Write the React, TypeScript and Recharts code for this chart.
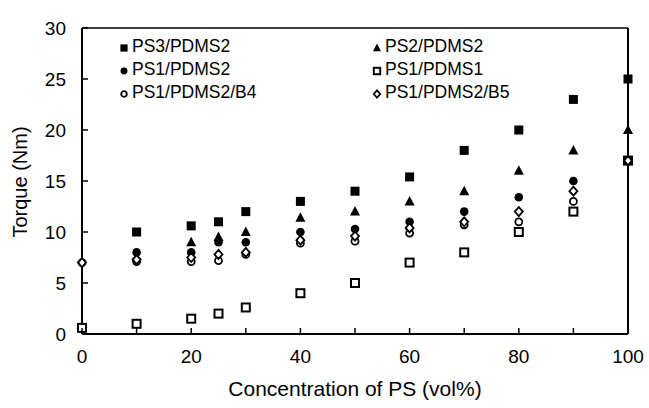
import React from 'react';
import { ScatterChart, Scatter, XAxis, YAxis, ReferenceLine, Legend, Label } from 'recharts';

// Concentration of PS (vol%)
const concentration = [0, 10, 20, 25, 30, 40, 50, 60, 70, 80, 90, 100];
// Torque (Nm) per series, null = no point
const ps3Pdms2 = [null, 10, 10.6, 11, 12, 13, 14, 15.4, 18, 20, 23, 25];
const ps2Pdms2 = [null, null, 9, 9.5, 10, 11.4, 12, 13, 14, 16, 18, 20];
const ps1Pdms2 = [null, 8, 8, 9, 9, 10, 10.3, 11, 12, 13.4, 15, null];
const ps1Pdms1 = [0.6, 1, 1.5, 2, 2.6, 4, 5, 7, 8, 10, 12, 17];
const ps1Pdms2B4 = [7, 7.1, 7.1, 7.2, 7.8, 8.9, 9.1, 9.9, 10.7, 11, 13, 17];
const ps1Pdms2B5 = [7, 7.3, 7.5, 7.8, 8, 9.2, 9.6, 10.4, 11, 12, 14, 17];

const xTicks = [0, 10, 20, 30, 40, 50, 60, 70, 80, 90, 100];
const yTicks = [0, 5, 10, 15, 20, 25, 30];

const FONT = '"Liberation Sans", Arial, Helvetica, sans-serif';

const toPoints = (vals: (number | null)[]) =>
  concentration
    .map((x, i) => ({ x, y: vals[i] }))
    .filter((p) => p.y !== null);

type MarkerKind = 'fsq' | 'tri' | 'fci' | 'osq' | 'oci' | 'odi';

const drawMarker = (kind: MarkerKind, cx: number, cy: number, s = 1) => {
  switch (kind) {
    case 'fsq':
      return <rect x={cx - 4.5 * s} y={cy - 4.5 * s} width={9 * s} height={9 * s} fill="#000" />;
    case 'tri':
      return (
        <polygon
          points={`${cx},${cy - 5.5 * s} ${cx - 5 * s},${cy + 4 * s} ${cx + 5 * s},${cy + 4 * s}`}
          fill="#000"
        />
      );
    case 'fci':
      return <circle cx={cx} cy={cy} r={4.3 * s} fill="#000" />;
    case 'osq':
      return (
        <rect x={cx - 4 * s} y={cy - 4 * s} width={8 * s} height={8 * s} fill="#fff" stroke="#000" strokeWidth={2} />
      );
    case 'oci':
      return <circle cx={cx} cy={cy} r={3.5 * s} fill="#fff" stroke="#000" strokeWidth={1.8} />;
    case 'odi':
      return (
        <polygon
          points={`${cx},${cy - 4.5 * s} ${cx + 4 * s},${cy} ${cx},${cy + 4.5 * s} ${cx - 4 * s},${cy}`}
          fill="#fff"
          stroke="#000"
          strokeWidth={1.8}
        />
      );
  }
  return null;
};

const makeShape = (kind: MarkerKind) => (props: any) => {
  const { cx, cy } = props;
  if (cx == null || cy == null) return <g />;
  return drawMarker(kind, cx, cy);
};

const series: { name: string; vals: (number | null)[]; kind: MarkerKind }[] = [
  { name: 'PS3/PDMS2', vals: ps3Pdms2, kind: 'fsq' },
  { name: 'PS2/PDMS2', vals: ps2Pdms2, kind: 'tri' },
  { name: 'PS1/PDMS2', vals: ps1Pdms2, kind: 'fci' },
  { name: 'PS1/PDMS1', vals: ps1Pdms1, kind: 'osq' },
  { name: 'PS1/PDMS2/B4', vals: ps1Pdms2B4, kind: 'oci' },
  { name: 'PS1/PDMS2/B5', vals: ps1Pdms2B5, kind: 'odi' },
];

const XTick = (props: any) => {
  const { x, y, payload } = props;
  const v = payload.value;
  return (
    <g>
      <line x1={x} x2={x} y1={y} y2={y - 6} stroke="#000" strokeWidth={1.5} />
      {v % 20 === 0 && (
        <text x={x} y={y + 29} textAnchor="middle" fontSize={19} fontFamily={FONT} fill="#000">
          {v}
        </text>
      )}
    </g>
  );
};

const YTick = (props: any) => {
  const { x, y, payload } = props;
  return (
    <g>
      <line x1={x} x2={x + 6} y1={y} y2={y} stroke="#000" strokeWidth={1.5} />
      <text x={x - 16} y={y + 7} textAnchor="end" fontSize={19} fontFamily={FONT} fill="#000">
        {payload.value}
      </text>
    </g>
  );
};

const LegendBox = () => (
  <div style={{ position: 'relative', width: 400, height: 70, fontFamily: FONT, fontSize: 17.5, color: '#000' }}>
    {series.map((s, i) => {
      const col = i % 2;
      const row = Math.floor(i / 2);
      return (
        <div
          key={s.name}
          style={{
            position: 'absolute',
            left: col * 253,
            top: row * 23,
            height: 23,
            lineHeight: '23px',
            whiteSpace: 'nowrap',
          }}
        >
          <svg width={10} height={10} style={{ position: 'absolute', left: 0, top: 8 }}>
            {drawMarker(s.kind, 5, 5, 0.8)}
          </svg>
          <span style={{ position: 'absolute', left: 13 }}>{s.name}</span>
        </div>
      );
    })}
  </div>
);

export default function App() {
  return (
    <div style={{ position: 'absolute', left: 0, top: 0, width: 649, height: 408, background: '#fff' }}>
      <ScatterChart width={649} height={408} margin={{ top: 28, right: 21, bottom: 0, left: 0 }}>
        <XAxis
          type="number"
          dataKey="x"
          domain={[0, 100]}
          ticks={xTicks}
          interval={0}
          height={74}
          tickSize={0}
          tickMargin={0}
          tickLine={false}
          axisLine={{ stroke: '#000', strokeWidth: 2 }}
          tick={<XTick />}
        >
          <Label
            value="Concentration of PS (vol%)"
            position="insideBottom"
            offset={12}
            fontSize={21}
            fontFamily={FONT}
            fill="#000"
          />
        </XAxis>
        <YAxis
          type="number"
          dataKey="y"
          domain={[0, 30]}
          ticks={yTicks}
          interval={0}
          width={82}
          tickSize={0}
          tickMargin={0}
          tickLine={false}
          axisLine={{ stroke: '#000', strokeWidth: 2 }}
          tick={<YTick />}
        >
          <Label
            content={() => (
              <text
                x={27}
                y={182}
                transform="rotate(-90 27 182)"
                textAnchor="middle"
                fontSize={20}
                fontFamily={FONT}
                fill="#000"
              >
                Torque (Nm)
              </text>
            )}
          />
        </YAxis>
        <ReferenceLine y={30} stroke="#000" strokeWidth={1.5} />
        <ReferenceLine x={100} stroke="#000" strokeWidth={2} />
        <Legend
          layout="horizontal"
          verticalAlign="middle"
          align="center"
          wrapperStyle={{ position: 'absolute', top: 35, left: 119, width: 400, height: 70 }}
          content={() => <LegendBox />}
        />
        {series.map((s) => (
          <Scatter
            key={s.name}
            name={s.name}
            data={toPoints(s.vals)}
            shape={makeShape(s.kind)}
            isAnimationActive={false}
          />
        ))}
      </ScatterChart>
    </div>
  );
}
